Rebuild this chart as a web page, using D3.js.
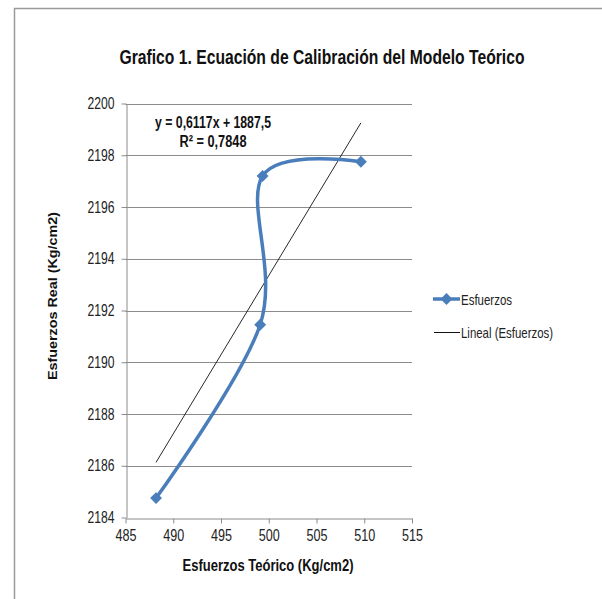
<!DOCTYPE html>
<html><head><meta charset="utf-8">
<script src="https://cdn.jsdelivr.net/npm/d3@7"></script>
<style>body{margin:0;background:#fff;}svg{display:block;}</style>
</head><body>
<script>
const teorico = [488.2, 499.1, 499.35, 509.65];
const real = [2184.75, 2191.45, 2197.2, 2197.75];
const xTicks = [485, 490, 495, 500, 505, 510, 515];
const yTicks = [2184, 2186, 2188, 2190, 2192, 2194, 2196, 2198, 2200];
const slope = 0.6117, intercept = 1887.5;
const titleText = "Grafico 1. Ecuación de Calibración  del Modelo Teórico";
const eqText = ["y = 0,6117x + 1887,5", "R² = 0,7848"];
const xTitle = "Esfuerzos Teórico (Kg/cm2)";
const yTitle = "Esfuerzos Real (Kg/cm2)";
const legendLabels = ["Esfuerzos", "Lineal (Esfuerzos)"];

const W = 602, H = 599;
const sans = "'Liberation Sans', Arial, sans-serif";
const svg = d3.select("body").append("svg").attr("width", W).attr("height", H);

// squeeze text horizontally to a given width
function fit(sel, w) {
  sel.attr("textLength", w).attr("lengthAdjust", "spacingAndGlyphs");
}

// frame
svg.append("path").attr("d", "M14.5,599V8.5H602").attr("fill", "none").attr("stroke", "#9a9a9a").attr("stroke-width", 1.5);

const x = d3.scaleLinear().domain([485, 515]).range([125.5, 412]);
const y = d3.scaleLinear().domain([2184, 2200]).range([517.5, 103.5]);

// gridlines
svg.append("g").selectAll("line").data(yTicks.slice(1)).join("line")
  .attr("x1", x(485)).attr("x2", x(515))
  .attr("y1", d => Math.round(y(d)) + 0.5).attr("y2", d => Math.round(y(d)) + 0.5)
  .attr("stroke", "#8c8c8c").attr("stroke-width", 1);

// axes
const xAxis = d3.axisBottom(x).tickValues(xTicks).tickFormat(d3.format("d")).tickSize(5).tickSizeOuter(0).tickPadding(6);
const gx = svg.append("g").attr("transform", `translate(0,${Math.round(y(2184)) + 0.5})`).call(xAxis);
const yAxis = d3.axisLeft(y).tickValues(yTicks).tickFormat(d3.format("d")).tickSize(5).tickSizeOuter(0).tickPadding(7);
const gy = svg.append("g").attr("transform", `translate(${Math.round(x(485)) + 0.5},0)`).call(yAxis);
[gx, gy].forEach(g => {
  g.select(".domain").attr("stroke", "#8c8c8c");
  g.selectAll(".tick line").attr("stroke", "#8c8c8c");
  g.selectAll(".tick text").attr("font-family", sans).attr("font-size", 16).attr("fill", "#222");
});
fit(gx.selectAll(".tick text"), 21);
fit(gy.selectAll(".tick text"), 27);

// trend line
svg.append("line")
  .attr("x1", x(teorico[0])).attr("y1", y(slope * teorico[0] + intercept))
  .attr("x2", x(teorico[3])).attr("y2", y(slope * teorico[3] + intercept))
  .attr("stroke", "#111").attr("stroke-width", 0.9);

// smooth series
const pts = teorico.map((t, i) => [x(t), y(real[i])]);
svg.append("path").attr("d", d3.line().curve(d3.curveCardinal.tension(0))(pts))
  .attr("fill", "none").attr("stroke", "#4a7ebb").attr("stroke-width", 3.5);
const diamond = d3.symbol().type(d3.symbolDiamond2).size(90);
svg.append("g").selectAll("path").data(pts).join("path")
  .attr("transform", d => `translate(${d[0]},${d[1]})`).attr("d", diamond)
  .attr("fill", "#4a7ebb");

// equation
const eq = svg.append("g").selectAll("text").data(eqText).join("text")
  .attr("x", 213).attr("y", (d, i) => 128 + i * 19).attr("text-anchor", "middle")
  .attr("font-family", sans).attr("font-weight", "bold").attr("font-size", 16).attr("fill", "#111")
  .attr("textLength", (d, i) => i === 0 ? 116 : 67).attr("lengthAdjust", "spacingAndGlyphs")
  .text(d => d);

// title
fit(svg.append("text").attr("x", 322).attr("y", 64).attr("text-anchor", "middle")
  .attr("font-family", sans).attr("font-weight", "bold").attr("font-size", 19.5).attr("fill", "#111")
  .text(titleText), 405);

// axis titles
fit(svg.append("text").attr("x", 268).attr("y", 571).attr("text-anchor", "middle")
  .attr("font-family", sans).attr("font-weight", "bold").attr("font-size", 16.5).attr("fill", "#111")
  .text(xTitle), 171);
fit(svg.append("text").attr("transform", "translate(57,296) rotate(-90)").attr("text-anchor", "middle")
  .attr("font-family", sans).attr("font-weight", "bold").attr("font-size", 13).attr("fill", "#111")
  .text(yTitle), 168);

// legend
const lg = svg.append("g");
lg.append("line").attr("x1", 433).attr("x2", 460).attr("y1", 299).attr("y2", 299).attr("stroke", "#4a7ebb").attr("stroke-width", 3.5);
lg.append("path").attr("transform", "translate(446.5,299)").attr("d", diamond).attr("fill", "#4a7ebb");
lg.append("line").attr("x1", 434).attr("x2", 460).attr("y1", 332.5).attr("y2", 332.5).attr("stroke", "#111").attr("stroke-width", 1);
lg.selectAll("text").data(legendLabels).join("text")
  .attr("x", 461).attr("y", (d, i) => 304.5 + i * 33)
  .attr("font-family", sans).attr("font-size", 14.5).attr("fill", "#222")
  .attr("textLength", (d, i) => i === 0 ? 51 : 92).attr("lengthAdjust", "spacingAndGlyphs")
  .text(d => d);
</script>
</body></html>
